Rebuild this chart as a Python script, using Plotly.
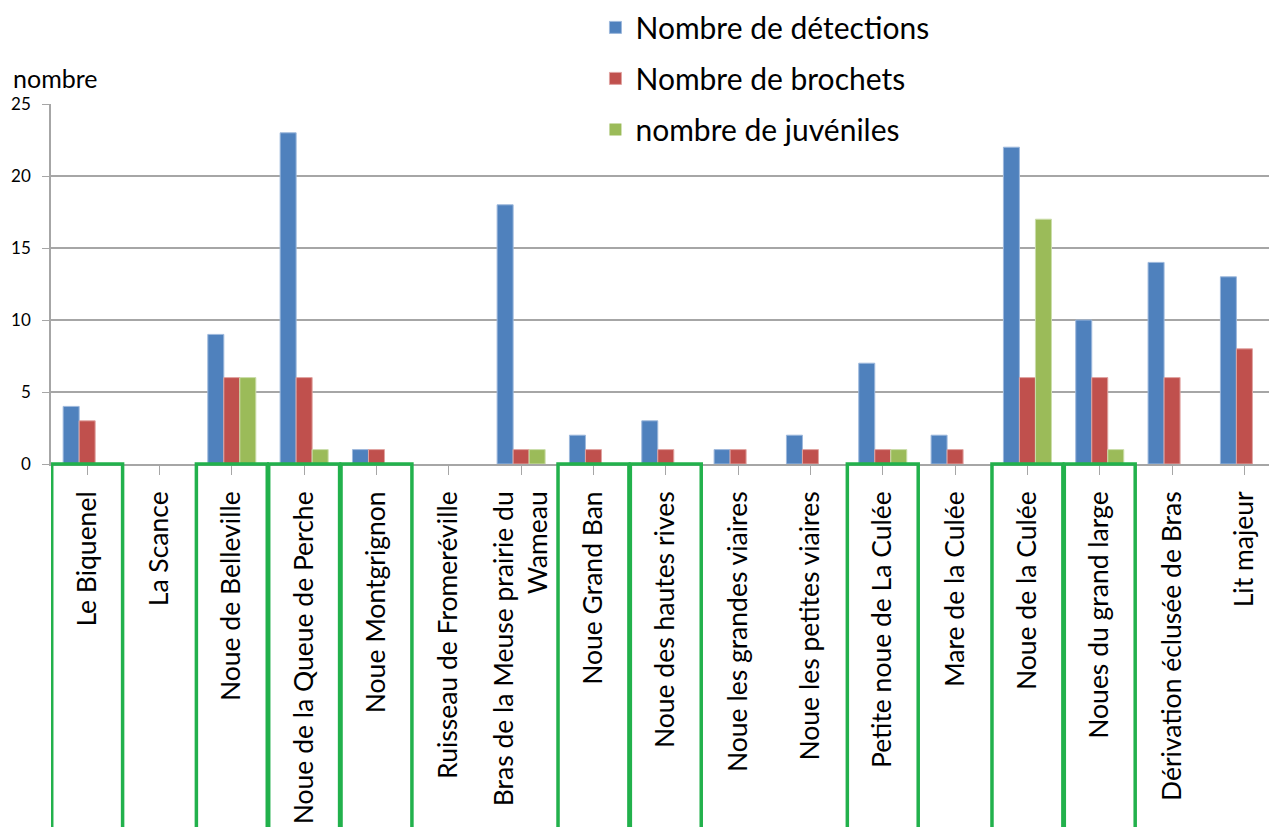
import plotly.graph_objects as go

sites = [
    "Le Biquenel", "La Scance", "Noue de Belleville", "Noue de la Queue de Perche",
    "Noue Montgrignon", "Ruisseau de Fromeréville",
    "Bras de la Meuse prairie du<br>Wameau", "Noue Grand Ban",
    "Noue des hautes rives", "Noue les grandes viaires", "Noue les petites viaires",
    "Petite noue de La Culée", "Mare de la Culée", "Noue de la Culée",
    "Noues du grand large", "Dérivation éclusée de Bras", "Lit majeur",
]
detections = [4, 0, 9, 23, 1, 0, 18, 2, 3, 1, 2, 7, 2, 22, 10, 14, 13]
brochets = [3, 0, 6, 6, 1, 0, 1, 1, 1, 1, 1, 1, 1, 6, 6, 6, 8]
juveniles = [0, 0, 6, 1, 0, 0, 1, 0, 0, 0, 0, 1, 0, 17, 1, 0, 0]

# sites framed in green
highlighted = [0, 2, 3, 4, 7, 8, 11, 13, 14]

series = [
    ("Nombre de détections", detections, "#4F81BD", "#9DB8DC"),
    ("Nombre de brochets", brochets, "#C0504D", "#E0A3A1"),
    ("nombre de juvéniles", juveniles, "#9BBB59", "#CBDDAA"),
]

FONT = "Lato"

fig = go.Figure()
for name, vals, col, edge in series:
    fig.add_trace(go.Bar(
        x=list(range(len(sites))), y=vals, name=name, legendgroup=name,
        marker=dict(
            color=col,
            # no outline on empty bars so nothing shows at zero
            line=dict(color=edge, width=[1 if v else 0 for v in vals]),
        ),
    ))

shapes = []
for i in highlighted:
    shapes.append(dict(
        type="rect", xref="x", yref="paper", x0=i - 0.49, x1=i + 0.49,
        y0=0, y1=-1.2, line=dict(color="#22B14C", width=3.5), layer="above",
    ))

fig.update_layout(
    width=1269, height=827,
    margin=dict(l=51, r=0, t=104, b=363),
    paper_bgcolor="white", plot_bgcolor="white",
    barmode="group", bargap=0.336, bargroupgap=0,
    font=dict(family=FONT, color="black"),
    shapes=shapes,
    legend=dict(
        x=0.447, y=1.285, xanchor="left", yanchor="top",
        bgcolor="rgba(0,0,0,0)", font=dict(size=30, family=FONT),
        tracegroupgap=9, itemwidth=30,
    ),
    annotations=[dict(
        text="nombre", xref="paper", yref="paper", x=-0.032, y=1.028,
        xanchor="left", yanchor="bottom", showarrow=False, borderpad=0,
        font=dict(size=25, family=FONT),
    )],
    xaxis=dict(
        range=[-0.5, 16.34], tickmode="array",
        tickvals=list(range(len(sites))), ticktext=sites,
        tickangle=-90, tickfont=dict(size=26.5, family=FONT),
        tickson="boundaries", ticks="outside", ticklen=9, tickcolor="#A6A6A6",
        ticklabelstandoff=6,
        showline=True, linecolor="#A6A6A6", linewidth=1.5,
        showgrid=False, zeroline=False,
    ),
    yaxis=dict(
        range=[0, 25], dtick=5, tickfont=dict(size=17, family=FONT),
        ticks="outside", ticklen=7, tickcolor="#A6A6A6", ticklabelstandoff=8,
        showgrid=True, gridcolor="#A6A6A6", gridwidth=1.5,
        showline=True, linecolor="#A6A6A6", linewidth=1.5,
        zeroline=False,
    ),
)

fig.write_html("out.html")
